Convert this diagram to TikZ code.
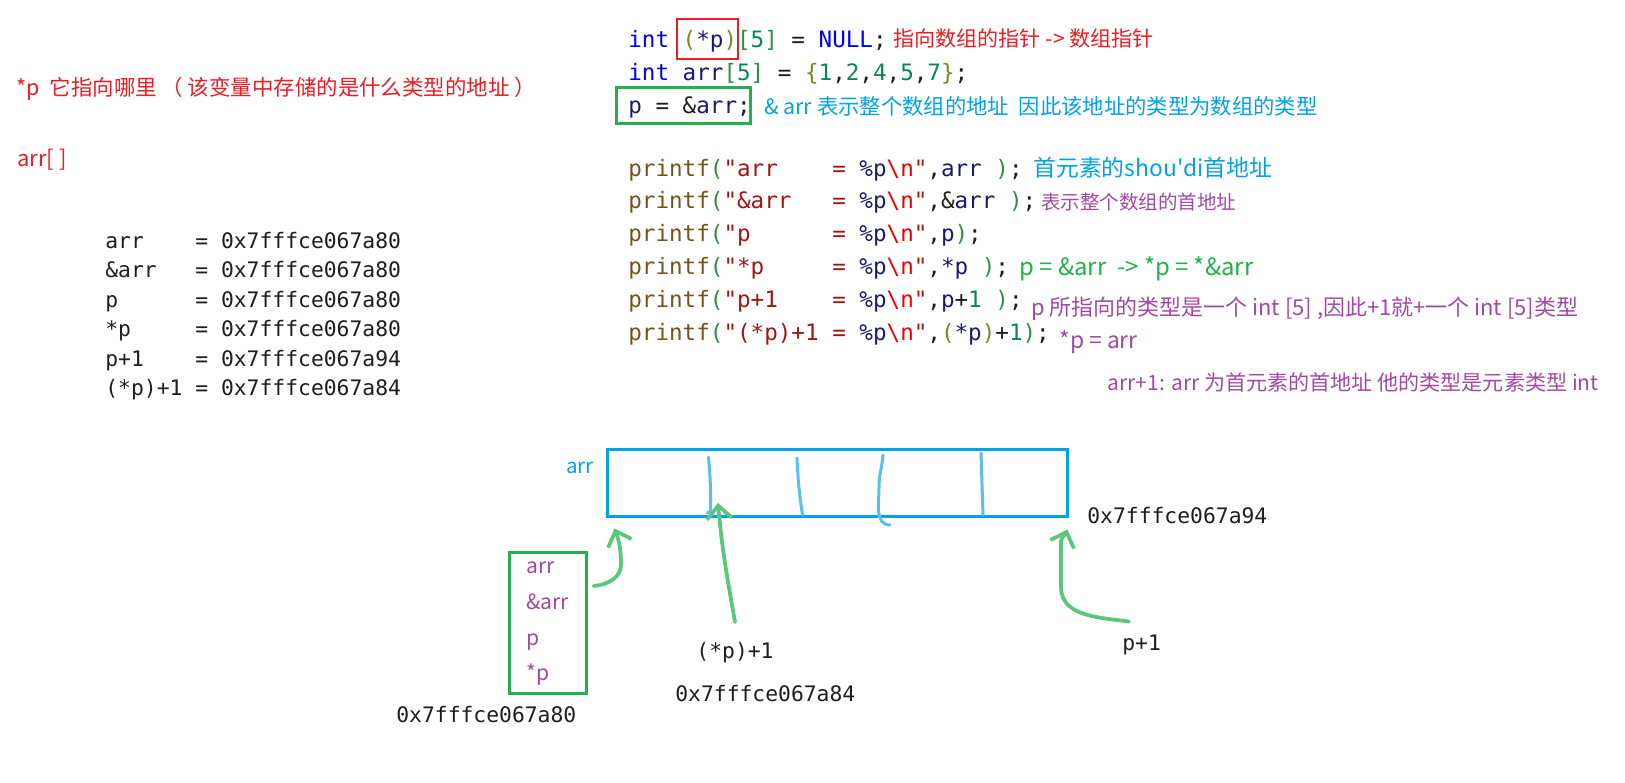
\documentclass[tikz,border=0pt]{standalone}
\usepackage{fontspec}
\setmonofont{DejaVu Sans Mono}
\newfontfamily\cjk{Noto Sans CJK SC}
\usetikzlibrary{arrows.meta,positioning}

\definecolor{cred}{RGB}{237,28,36}
\definecolor{cblue}{RGB}{0,162,232}
\definecolor{cpurple}{RGB}{163,73,164}
\definecolor{cgreen}{RGB}{34,177,76}
\definecolor{strokeblue}{RGB}{90,190,240}
\definecolor{handgreen}{RGB}{90,200,120}
\definecolor{codegray}{RGB}{30,30,30}
\definecolor{kwblue}{RGB}{0,0,255}
\definecolor{idnavy}{RGB}{25,25,112}
\definecolor{numgreen}{RGB}{9,134,88}
\definecolor{parolive}{RGB}{119,136,30}
\definecolor{brkgreen}{RGB}{44,145,66}
\definecolor{fnbrown}{RGB}{116,83,31}
\definecolor{strred}{RGB}{163,21,21}
\definecolor{escred}{RGB}{238,0,0}

% code colouring
\newcommand{\ckw}[1]{\textcolor{kwblue}{#1}}
\newcommand{\cid}[1]{\textcolor{idnavy}{#1}}
\newcommand{\cnum}[1]{\textcolor{numgreen}{#1}}
\newcommand{\cpar}[1]{\textcolor{parolive}{#1}}
\newcommand{\cbrk}[1]{\textcolor{brkgreen}{#1}}
\newcommand{\cfun}[1]{\textcolor{fnbrown}{#1}}
\newcommand{\cstr}[1]{\textcolor{strred}{#1}}
\newcommand{\cesc}[1]{\textcolor{escred}{#1}}

\tikzset{
    %Define style for code lines
    code/.style={
           font=\ttfamily\fontsize{12.85pt}{15pt}\selectfont,
           text=codegray,
           anchor=base west,
           inner sep=0pt},
    addr/.style={
           font=\ttfamily\fontsize{12.15pt}{15pt}\selectfont,
           text=codegray,
           anchor=base west,
           inner sep=0pt},
    %Define style for handwritten notes
    note/.style={
           font=\cjk\fontsize{#1}{#1}\selectfont,
           anchor=base west,
           inner sep=0pt},
    note/.default=12pt,
    %Define style for boxes
    membox/.style={
           rectangle,
           draw=cblue, line width=0.06cm,
           minimum width=9.21cm,
           minimum height=1.34cm},
    ptrbox/.style={
           rectangle,
           draw=cgreen, line width=0.06cm,
           minimum width=1.54cm,
           minimum height=2.8cm},
    divider/.style={
           draw=strokeblue, line width=0.06cm,
           line cap=round},
    % Define arrow style
    hand/.style={
           draw=handgreen, line width=0.075cm,
           line cap=round, line join=round,
           -{Straight Barb[length=0.26cm,width=0.5cm]}}
}

\begin{document}
\begin{tikzpicture}
\fill[white] (0,0) rectangle (32.5,15.64);
\useasboundingbox (0,0) rectangle (32.5,15.64);

\node[note=12.2pt, text=cred] (question) at (0.33,13.72) {*p~~它指向哪里 （ 该变量中存储的是什么类型的地址 ）};
\node[note=12.5pt, text=cred] (arrq) at (0.34,12.30) {arr[~]};

\node[addr] (out1) at (2.10,10.67) {arr~~~~=~0x7fffce067a80};
\node[addr] (out2) at (2.10,10.08) {\&arr~~~=~0x7fffce067a80};
\node[addr] (out3) at (2.10,9.49) {p~~~~~~=~0x7fffce067a80};
\node[addr] (out4) at (2.10,8.90) {*p~~~~~=~0x7fffce067a80};
\node[addr] (out5) at (2.10,8.31) {p+1~~~~=~0x7fffce067a94};
\node[addr] (out6) at (2.10,7.72) {(*p)+1~=~0x7fffce067a84};

\node[code] (decl) at (12.56,14.69) {\ckw{int} \cpar{(}\cid{*p}\cpar{)}\cbrk{[}\cnum{5}\cbrk{]} = \ckw{NULL};};
\node[code] (arrdecl) at (12.56,14.03) {\ckw{int} \cid{arr}\cbrk{[}\cnum{5}\cbrk{]} = \cpar{\{}\cnum{1},\cnum{2},\cnum{4},\cnum{5},\cnum{7}\cpar{\}};};
\node[code] (assign) at (12.56,13.37) {\cid{p} = \&\cid{arr};};
\draw[cred, line width=0.03cm] (13.54,14.46) rectangle (14.76,15.26);
\draw[cgreen, line width=0.06cm] (12.32,13.16) rectangle (15.00,13.88);

\node[code] (pf1) at (12.56,12.10) {\cfun{printf}\cbrk{(}\cstr{"arr~~~~=~}\cid{\%p}\cesc{\textbackslash n}\cstr{"},\cid{arr}~\cbrk{)};};
\node[code] (pf2) at (12.56,11.46) {\cfun{printf}\cbrk{(}\cstr{"\&arr~~~=~}\cid{\%p}\cesc{\textbackslash n}\cstr{"},\&\cid{arr}~\cbrk{)};};
\node[code] (pf3) at (12.56,10.80) {\cfun{printf}\cbrk{(}\cstr{"p~~~~~~=~}\cid{\%p}\cesc{\textbackslash n}\cstr{"},\cid{p}\cbrk{)};};
\node[code] (pf4) at (12.56,10.14) {\cfun{printf}\cbrk{(}\cstr{"*p~~~~~=~}\cid{\%p}\cesc{\textbackslash n}\cstr{"},\cid{*p}~\cbrk{)};};
\node[code] (pf5) at (12.56,9.49) {\cfun{printf}\cbrk{(}\cstr{"p+1~~~~=~}\cid{\%p}\cesc{\textbackslash n}\cstr{"},\cid{p}+\cnum{1}~\cbrk{)};};
\node[code] (pf6) at (12.56,8.83) {\cfun{printf}\cbrk{(}\cstr{"(*p)+1~=~}\cid{\%p}\cesc{\textbackslash n}\cstr{"},\cpar{(}\cid{*p}\cpar{)}+\cnum{1}\cbrk{)};};

\node[note, text=cred] (c1) at (17.86,14.70) {指向数组的指针 -> 数组指针};
\node[note=12.15pt, text=cblue] (c3) at (15.28,13.34) {\& arr 表示整个数组的地址~~因此该地址的类型为数组的类型};
\node[note=13pt, text=cblue] (c4) at (20.66,12.10) {首元素的shou\textquotesingle di首地址};
\node[note=11.1pt, text=cpurple] (c5) at (20.82,11.44) {表示整个数组的首地址};
\node[note=13.6pt, text=cgreen] (c7) at (20.38,10.12) {p = \&arr~~-> *p = *\&arr};
\node[note=12.5pt, text=cpurple] (c8) at (20.62,9.32) {p 所指向的类型是一个 int [5] ,因此+1就+一个 int [5]类型};
\node[note=13pt, text=cpurple] (c9) at (21.18,8.66) {*p = arr};
\node[note, text=cpurple] (c10) at (22.14,7.82) {arr+1: arr 为首元素的首地址 他的类型是元素类型 int};

% memory of arr
\node[membox] (mem) at (16.745,5.97) {};
\node[note=11.7pt, text=cblue] (memlbl) at (11.32,6.16) {arr};
\draw[divider] (14.17,6.50) to[bend left=3] (14.21,5.42) -- (14.15,5.38);
\draw[divider] (15.94,6.48) to[bend right=3] (16.05,5.34);
\draw[divider] (17.66,6.54) to[out=-95,in=90] (17.58,5.9) to[out=-90,in=180] (17.80,5.14);
\draw[divider] (19.62,6.58) -- (19.66,5.34);

\node[ptrbox] (ptrs) at (10.95,3.18) {};
\node[note, text=cpurple] (parr) at (10.52,4.16) {arr};
\node[note, text=cpurple] (paddr) at (10.52,3.46) {\&arr};
\node[note, text=cpurple] (pp) at (10.52,2.74) {p};
\node[note, text=cpurple] (pstar) at (10.52,2.03) {*p};
\node[addr] (a80) at (7.92,1.20) {0x7fffce067a80};

\coordinate (elem1) at (14.36,5.58);
\node[addr, anchor=base] (starp1) at (14.70,2.48) {(*p)+1};
\node[addr] (a84) at (13.50,1.62) {0x7fffce067a84};
\node[addr] (pplus1) at (22.44,2.63) {p+1};
\node[addr] (a94) at (21.74,5.18) {0x7fffce067a94};

\draw[hand] ([shift={(0.12,0.74)}]ptrs.east) to[out=5,in=-90] (12.42,4.35) to[out=90,in=-70] ([shift={(0.18,-0.2)}]mem.south west);
\draw[hand] ([yshift=0.39cm]starp1.north) to[out=100,in=-85] (elem1);
\draw[hand] ([shift={(0.14,0.26)}]pplus1.north west) to[out=172,in=-90] (21.22,3.9) -- (21.22,4.8) to[out=90,in=-110] ([shift={(-0.03,-0.22)}]mem.south east);

\end{tikzpicture}
\end{document}
